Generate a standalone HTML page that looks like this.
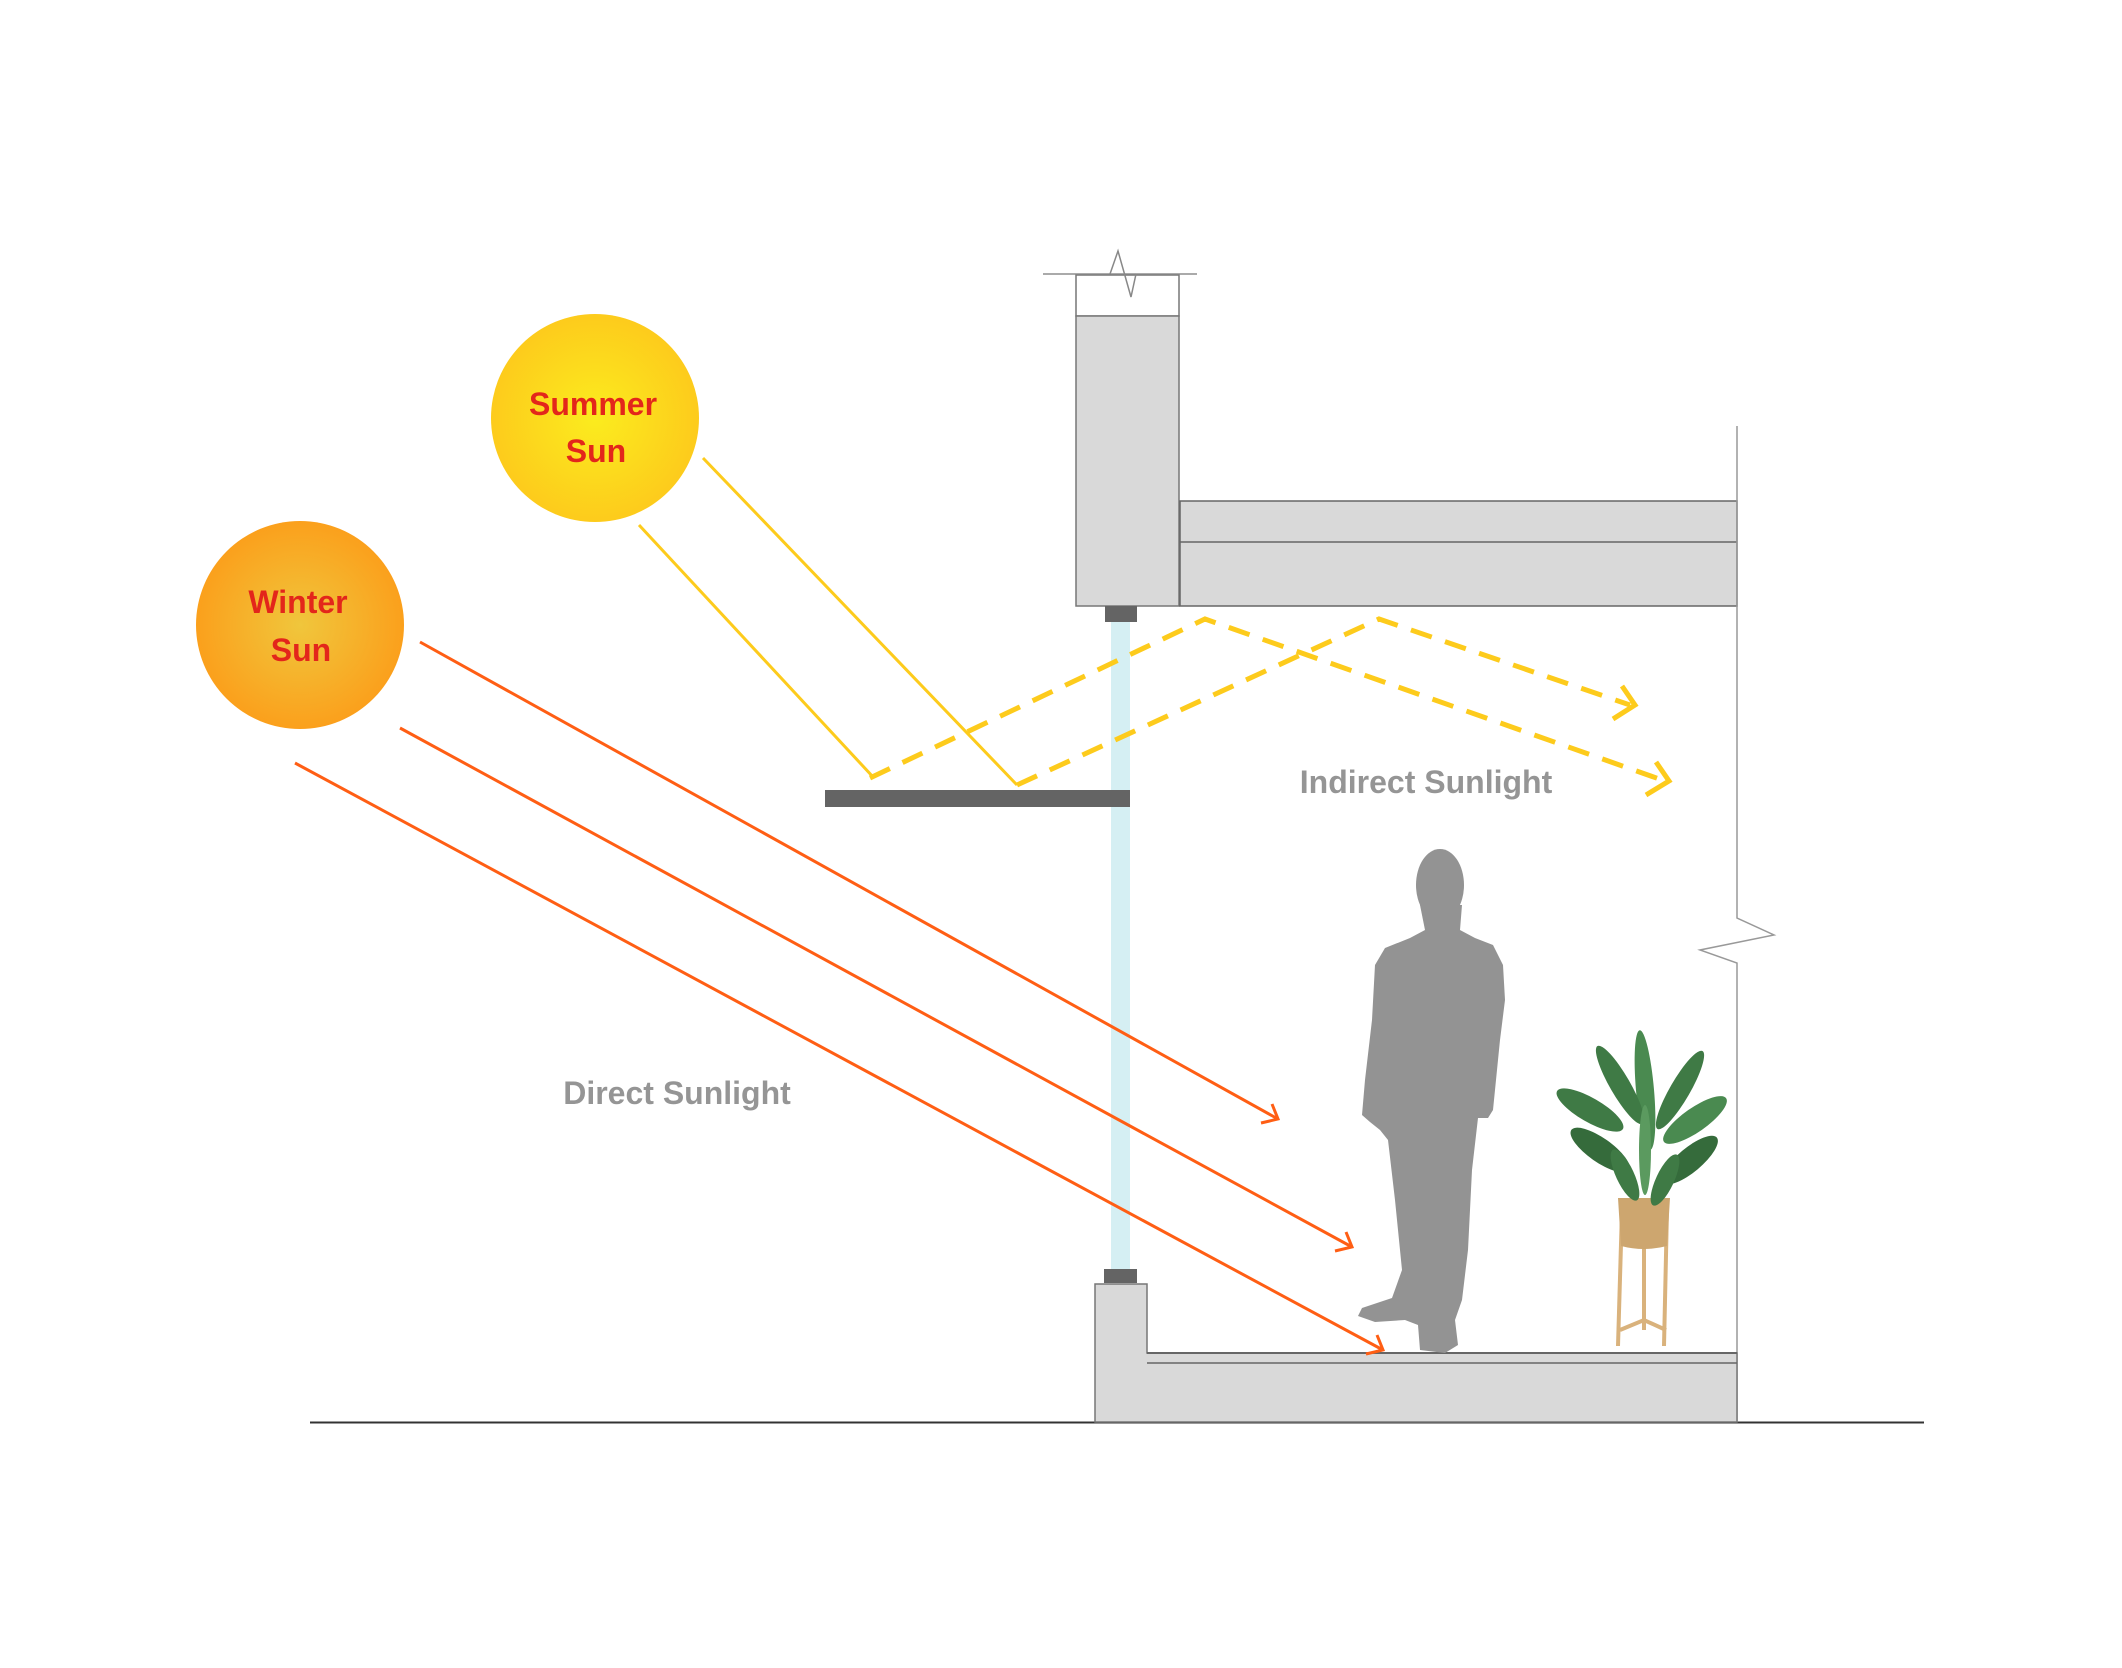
<!DOCTYPE html>
<html><head><meta charset="utf-8"><style>
html,body{margin:0;padding:0;background:#fff;}
svg{display:block;}
</style></head><body>
<svg width="2122" height="1668" viewBox="0 0 2122 1668" xmlns="http://www.w3.org/2000/svg">
<defs>
<radialGradient id="gs" cx="50%" cy="50%" r="50%"><stop offset="0" stop-color="#fbec1e"/><stop offset="1" stop-color="#fdcb1c"/></radialGradient>
<radialGradient id="gw" cx="50%" cy="50%" r="50%"><stop offset="0" stop-color="#f0c63c"/><stop offset="1" stop-color="#fba01c"/></radialGradient>
</defs>
<line x1="310" y1="1422.5" x2="1924" y2="1422.5" stroke="#333" stroke-width="2"/>
<line x1="1043" y1="274" x2="1197" y2="274" stroke="#aaa" stroke-width="2"/>
<rect x="1076" y="275" width="103" height="41" fill="#fff" stroke="#777" stroke-width="1.5"/>
<polyline points="1110,274 1118,251 1131,297 1136,274" fill="none" stroke="#888" stroke-width="1.5"/>
<rect x="1076" y="316" width="103" height="290" fill="#d9d9d9" stroke="#777" stroke-width="1.5"/>
<rect x="1180" y="501" width="557" height="105" fill="#d9d9d9" stroke="#666" stroke-width="1.5"/>
<line x1="1180" y1="542" x2="1737" y2="542" stroke="#666" stroke-width="1.5"/>
<polyline points="1737,426 1737,918 1774,935 1700,950 1737,963 1737,1422" fill="none" stroke="#999" stroke-width="1.5"/>
<rect x="1111" y="622" width="19" height="647" fill="#d5eff3"/>
<rect x="1105" y="606" width="32" height="16" fill="#646464"/>
<rect x="1104" y="1269" width="33" height="14" fill="#646464"/>
<path d="M1095,1284 H1147 V1353 H1737 V1422 H1095 Z" fill="#d9d9d9" stroke="#777" stroke-width="1.5"/>
<line x1="1147" y1="1363" x2="1737" y2="1363" stroke="#666" stroke-width="1.5"/>
<line x1="1147" y1="1353" x2="1737" y2="1353" stroke="#666" stroke-width="2"/>
<rect x="825" y="790" width="305" height="17" fill="#646464"/>
<circle cx="595" cy="418" r="104" fill="url(#gs)"/>
<circle cx="300" cy="625" r="104" fill="url(#gw)"/>
<g font-family="Liberation Sans, sans-serif" font-weight="bold" font-size="32" fill="#e3261b" text-anchor="middle">
<text x="593" y="415">Summer</text><text x="596" y="462">Sun</text>
<text x="298" y="613">Winter</text><text x="301" y="661">Sun</text>
</g>
<line x1="639" y1="525" x2="874" y2="778" stroke="#fdcb1c" stroke-width="3"/>
<line x1="703" y1="458" x2="1017" y2="785" stroke="#fdcb1c" stroke-width="3"/>
<g fill="none" stroke="#fdcb1c" stroke-width="5" stroke-dasharray="22,14">
<polyline points="870,778 1205,619 1665,781"/>
<polyline points="1017,785 1379,619 1630,705"/>
</g>
<g fill="none" stroke="#fdcb1c" stroke-width="5">
<polyline points="1622,686 1635,705 1613,719"/>
<polyline points="1656,762 1669,781 1646,795"/>
</g>
<g stroke="#ff5e14" stroke-width="3" fill="none">
<line x1="420" y1="642" x2="1278" y2="1119"/>
<line x1="400" y1="728" x2="1352" y2="1247"/>
<line x1="295" y1="763" x2="1383" y2="1350"/>
<polyline points="1272,1104 1278,1119 1261,1123"/>
<polyline points="1346,1232 1352,1247 1335,1251"/>
<polyline points="1377,1335 1383,1350 1366,1354"/>
</g>
<g font-family="Liberation Sans, sans-serif" font-weight="bold" font-size="32" fill="#959595" text-anchor="middle">
<text x="1426" y="793">Indirect Sunlight</text>
<text x="677" y="1104">Direct Sunlight</text>
</g>
<g fill="#939393">
<ellipse cx="1440" cy="885" rx="24" ry="36"/>
<path d="M1420,905 L1462,905 L1460,930 L1475,938 L1493,945 L1503,965 L1505,1000 L1500,1040 L1493,1110 L1488,1118 L1478,1118 L1472,1170 L1468,1250 L1462,1300 L1455,1320 L1458,1345 L1445,1353 L1420,1350 L1418,1325 L1405,1320 L1375,1322 L1358,1316 L1362,1308 L1392,1298 L1402,1270 L1395,1200 L1388,1140 L1380,1130 L1370,1122 L1362,1115 L1365,1080 L1372,1020 L1375,965 L1385,948 L1410,938 L1425,930 Z"/>
</g>
<g stroke="#d9b27c" stroke-width="4" fill="none">
<line x1="1622" y1="1210" x2="1618" y2="1346"/>
<line x1="1667" y1="1210" x2="1664" y2="1346"/>
<line x1="1644" y1="1248" x2="1644" y2="1330"/>
<polyline points="1620,1330 1644,1320 1666,1330"/>
</g>
<path d="M1618,1198 L1670,1198 L1667,1246 Q1644,1252 1621,1246 Z" fill="#cda66f"/>
<g fill="#3f7a45">
<ellipse cx="1645" cy="1090" rx="9" ry="60" transform="rotate(-5 1645 1090)" fill="#4a8a50"/>
<ellipse cx="1620" cy="1085" rx="10" ry="45" transform="rotate(-30 1620 1085)"/>
<ellipse cx="1680" cy="1090" rx="10" ry="45" transform="rotate(30 1680 1090)"/>
<ellipse cx="1590" cy="1110" rx="12" ry="38" transform="rotate(-60 1590 1110)"/>
<ellipse cx="1695" cy="1120" rx="12" ry="38" transform="rotate(55 1695 1120)" fill="#4a8a50"/>
<ellipse cx="1600" cy="1150" rx="12" ry="35" transform="rotate(-55 1600 1150)" fill="#356b3b"/>
<ellipse cx="1690" cy="1160" rx="12" ry="35" transform="rotate(50 1690 1160)" fill="#356b3b"/>
<ellipse cx="1625" cy="1175" rx="9" ry="28" transform="rotate(-25 1625 1175)"/>
<ellipse cx="1665" cy="1180" rx="9" ry="28" transform="rotate(25 1665 1180)"/>
<ellipse cx="1645" cy="1150" rx="6" ry="45" fill="#5b9a5f"/>
</g>
</svg>
</body></html>
